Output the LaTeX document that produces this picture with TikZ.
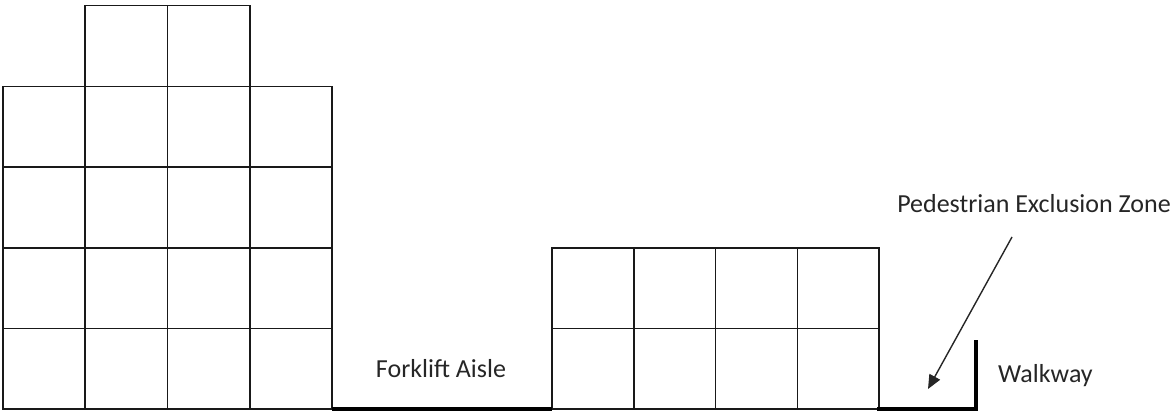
\documentclass[tikz,border=0pt]{standalone}
\usepackage{fontspec}
\setmainfont{Carlito}
\usetikzlibrary{arrows.meta}
\begin{document}
\begin{tikzpicture}[x=1pt,y=1pt,
  cell/.style={draw=black!90,line width=1.7pt},
  floorline/.style={draw=black,line width=3.6pt},
  lbl/.style={font=\fontsize{26}{30}\selectfont,text=black!85,inner sep=0pt},
  pointer/.style={draw=black!85,line width=1.4pt,-{Triangle[length=14pt,width=12pt]}}]
\useasboundingbox (0,0) rectangle (1175,412);
% left stack (y flipped: y = 412 - yimg)
\foreach \i in {0,...,3}{
  \foreach \j in {0,...,3}{
    \draw[cell] ({3+82.25*\i},{3+80.6*\j}) rectangle ++(82.25,80.6);
  }
}
\foreach \i in {1,2}{
  \draw[cell] ({3+82.25*\i},{3+80.6*4}) rectangle ++(82.25,81);
}
% right stack
\foreach \i in {0,...,3}{
  \foreach \j in {0,1}{
    \draw[cell] ({552+81.8*\i},{3+80.5*\j}) rectangle ++(81.8,80.5);
  }
}
% floor lines
\draw[floorline] (332,3) -- (552,3);
\draw[floorline,line cap=rect] (879,3) -- (976,3) -- (976,70);
% labels
\node[lbl,anchor=base] (aisle) at (441,34) {Forklift Aisle};
\node[lbl,anchor=base west] (walk) at (998,29) {Walkway};
\node[lbl,anchor=base east] (ped) at (1171,199) {Pedestrian Exclusion Zone};
\coordinate (pa) at (1012,175);
\coordinate (pb) at (928,23);
\draw[pointer] (pa) -- (pb);
\end{tikzpicture}
\end{document}
